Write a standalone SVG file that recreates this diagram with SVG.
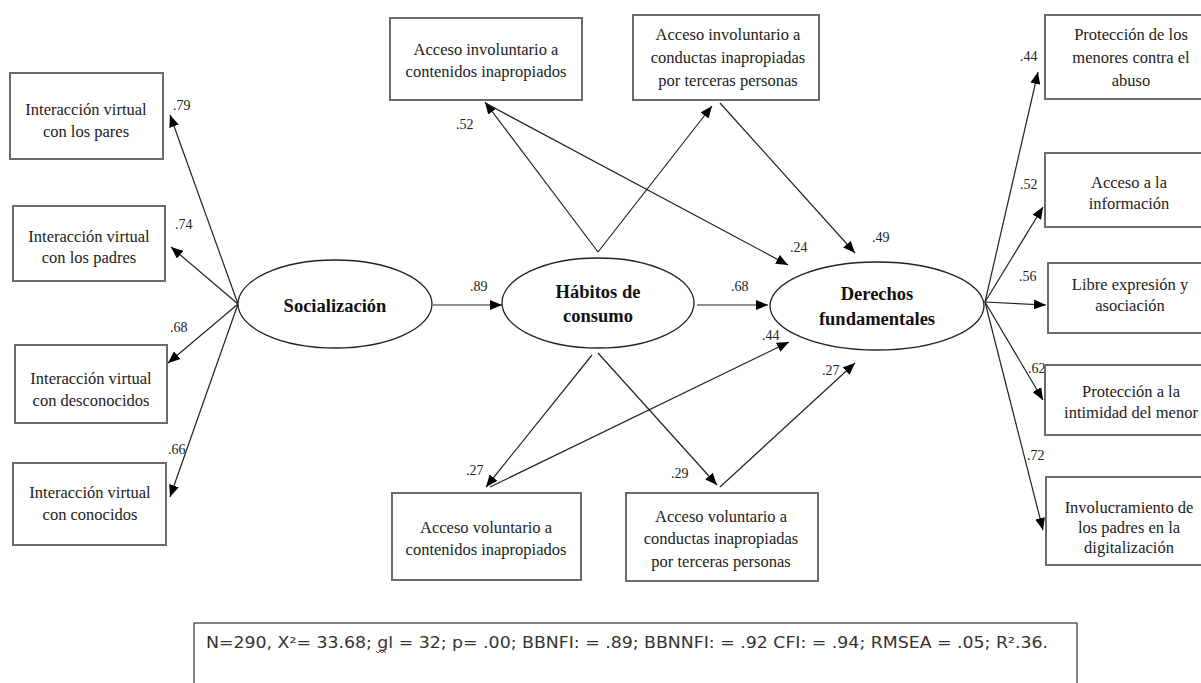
<svg xmlns="http://www.w3.org/2000/svg" width="1201" height="683" viewBox="0 0 1201 683">
<defs>
<style>
.box{fill:#fff;stroke:#6b6b6b;stroke-width:2}
.ell{fill:#fff;stroke:#222;stroke-width:1.3}
.t{font-family:"Liberation Serif","Times New Roman",serif;font-size:16.5px;fill:#222;text-anchor:middle}
.b{font-family:"Liberation Serif","Times New Roman",serif;font-size:18.5px;font-weight:bold;fill:#111;text-anchor:middle}
.n{font-family:"Liberation Serif","Times New Roman",serif;font-size:14px;fill:#222}
.a{stroke:#222;stroke-width:1.2;fill:none;marker-end:url(#ah)}
.f{font-family:"DejaVu Sans","Liberation Sans",sans-serif;font-size:16px;fill:#333}
</style>
<marker id="ah" viewBox="0 0 12 10" refX="12" refY="5" markerWidth="12" markerHeight="10" markerUnits="userSpaceOnUse" orient="auto">
<path d="M0,0 L12,5 L0,10 Z" fill="#000"/>
</marker>
</defs>
<rect width="1201" height="683" fill="#fff"/>

<g id="connectors">
<line class="a" x1="238" y1="304" x2="170" y2="115"/>
<line class="a" x1="238" y1="304" x2="171" y2="247"/>
<line class="a" x1="238" y1="304" x2="168" y2="363"/>
<line class="a" x1="238" y1="304" x2="170" y2="497"/>
<line class="a" x1="433" y1="305" x2="502" y2="305"/>
<line class="a" x1="697" y1="305" x2="768" y2="305"/>
<line class="a" x1="598" y1="252" x2="485" y2="102"/>
<line class="a" x1="598" y1="252" x2="712" y2="106"/>
<line class="a" x1="487" y1="104" x2="788" y2="265"/>
<line class="a" x1="720" y1="103" x2="855" y2="253"/>
<line class="a" x1="592" y1="355" x2="486" y2="487"/>
<line class="a" x1="490" y1="487" x2="789" y2="342"/>
<line class="a" x1="598" y1="353" x2="717" y2="485"/>
<line class="a" x1="720" y1="487" x2="855" y2="363"/>
<line class="a" x1="985" y1="302" x2="1038" y2="72"/>
<line class="a" x1="985" y1="302" x2="1043" y2="207"/>
<line class="a" x1="985" y1="302" x2="1046" y2="305"/>
<line class="a" x1="985" y1="302" x2="1043" y2="400"/>
<line class="a" x1="985" y1="302" x2="1043" y2="530"/>
<text class="n" x="173" y="110">.79</text>
<text class="n" x="175" y="229">.74</text>
<text class="n" x="170" y="332">.68</text>
<text class="n" x="168" y="454">.66</text>
<text class="n" x="470" y="291">.89</text>
<text class="n" x="731" y="291">.68</text>
<text class="n" x="456" y="129">.52</text>
<text class="n" x="790" y="252">.24</text>
<text class="n" x="872" y="242">.49</text>
<text class="n" x="762" y="340">.44</text>
<text class="n" x="822" y="375">.27</text>
<text class="n" x="466" y="475">.27</text>
<text class="n" x="671" y="478">.29</text>
<text class="n" x="1020" y="61">.44</text>
<text class="n" x="1020" y="189">.52</text>
<text class="n" x="1019" y="281">.56</text>
<text class="n" x="1028" y="373">.62</text>
<text class="n" x="1027" y="460">.72</text>
</g>

<g id="n-pares"><rect class="box" x="10" y="73" width="153" height="86"/><text class="t" x="86" y="115">Interacción virtual</text><text class="t" x="86" y="137">con los pares</text></g>
<g id="n-padres"><rect class="box" x="13" y="206" width="152" height="75"/><text class="t" x="89" y="242">Interacción virtual</text><text class="t" x="89" y="263">con los padres</text></g>
<g id="n-desconocidos"><rect class="box" x="15" y="345" width="152" height="78"/><text class="t" x="91" y="384">Interacción virtual</text><text class="t" x="91" y="406">con desconocidos</text></g>
<g id="n-conocidos"><rect class="box" x="13" y="463" width="153" height="82"/><text class="t" x="90" y="498">Interacción virtual</text><text class="t" x="90" y="520">con conocidos</text></g>

<g id="n-socializacion"><ellipse class="ell" cx="335" cy="304" rx="97" ry="44"/><text class="b" x="335" y="312">Socialización</text></g>
<g id="n-habitos"><ellipse class="ell" cx="598" cy="303" rx="96" ry="45"/><text class="b" x="598" y="298">Hábitos de</text><text class="b" x="598" y="322">consumo</text></g>
<g id="n-derechos"><ellipse class="ell" cx="877" cy="306" rx="107" ry="44"/><text class="b" x="877" y="300">Derechos</text><text class="b" x="877" y="325">fundamentales</text></g>

<g id="n-inv-contenidos"><rect class="box" x="390" y="18" width="192" height="82"/><text class="t" x="486" y="55">Acceso involuntario a</text><text class="t" x="486" y="77">contenidos inapropiados</text></g>
<g id="n-inv-conductas"><rect class="box" x="633" y="15" width="186" height="85"/><text class="t" x="728" y="40">Acceso involuntario a</text><text class="t" x="728" y="63">conductas inapropiadas</text><text class="t" x="728" y="86">por terceras personas</text></g>

<g id="n-vol-contenidos"><rect class="box" x="392" y="493" width="189" height="87"/><text class="t" x="486" y="533">Acceso voluntario a</text><text class="t" x="486" y="555">contenidos inapropiados</text></g>
<g id="n-vol-conductas"><rect class="box" x="626" y="493" width="192" height="88"/><text class="t" x="721" y="522">Acceso voluntario a</text><text class="t" x="721" y="544">conductas inapropiadas</text><text class="t" x="721" y="567">por terceras personas</text></g>

<g id="n-proteccion-abuso"><rect class="box" x="1045" y="15" width="170" height="84"/><text class="t" x="1131" y="40">Protección de los</text><text class="t" x="1131" y="63">menores contra el</text><text class="t" x="1131" y="86">abuso</text></g>
<g id="n-informacion"><rect class="box" x="1045" y="153" width="170" height="74"/><text class="t" x="1129" y="188">Acceso a la</text><text class="t" x="1129" y="209">información</text></g>
<g id="n-expresion"><rect class="box" x="1048" y="263" width="170" height="70"/><text class="t" x="1130" y="290">Libre expresión y</text><text class="t" x="1130" y="311">asociación</text></g>
<g id="n-intimidad"><rect class="box" x="1045" y="365" width="170" height="70"/><text class="t" x="1131" y="397">Protección a la</text><text class="t" x="1131" y="418">intimidad del menor</text></g>
<g id="n-padres-digital"><rect class="box" x="1046" y="477" width="170" height="88"/><text class="t" x="1129" y="513">Involucramiento de</text><text class="t" x="1129" y="533">los padres en la</text><text class="t" x="1129" y="553">digitalización</text></g>

<g id="footer">
<rect x="194" y="623" width="883" height="80" fill="#fff" stroke="#333" stroke-width="1.2"/>
<text class="f" x="206" y="648" textLength="842" lengthAdjust="spacingAndGlyphs">N=290, X²= 33.68; gl = 32; p= .00; BBNFI: = .89; BBNNFI: = .92 CFI: = .94; RMSEA = .05; R².36.</text>
<path d="M376,651 l2,2 l2,-2 l2,2 l2,-2 l2,2" fill="none" stroke="#e03030" stroke-width="1"/>
</g>
</svg>
